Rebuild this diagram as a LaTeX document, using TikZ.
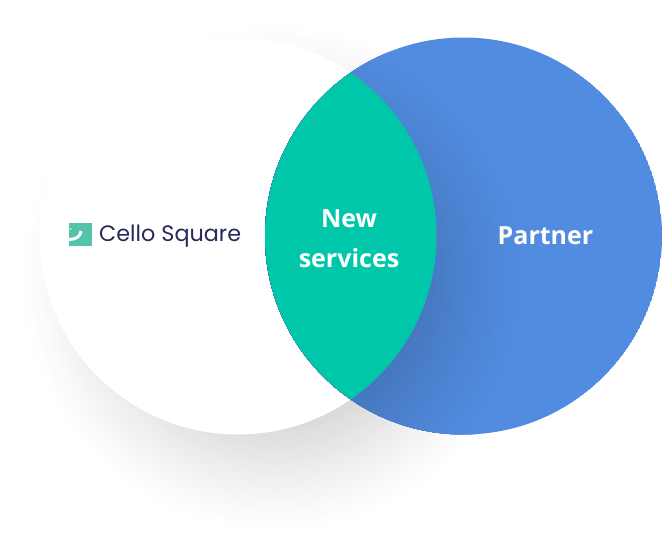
\documentclass[tikz,border=0pt]{standalone}
\usepackage{fontspec}
\usetikzlibrary{positioning}
\setmainfont{Open Sans}
\newfontfamily\logofont{Poppins}
\definecolor{partnerblue}{HTML}{528CE0}
\definecolor{lensgreen}{HTML}{00C7A9}
\definecolor{logonavy}{HTML}{28285C}
\definecolor{logogreen}{HTML}{55C3A8}
\begin{document}
\begin{tikzpicture}[
    x=1pt, y=-1pt
]
\tikzset{
    biglabel/.style = {text=white, align=center, font=\fontsize{25}{40}\selectfont\bfseries},
    logotext/.style = {text=logonavy, inner sep=0pt, font=\logofont\fontsize{22.3}{24}\selectfont}
}
\useasboundingbox (0,0) rectangle (662,552);
% soft shadow, as rings from the outside in
\foreach \r in {255,252,...,120} {
    \pgfmathsetmacro\t{(255-\r)/135}
    \pgfmathsetmacro\d{19*\t^1.2}
    \fill[black!\d!white] (275,278) circle[radius=\r];
}
\fill[white] (238,236) circle[radius=198.5];
\begin{scope}
\clip (463.5,236) circle[radius=198.5];
\fill[partnerblue] (463.5,236) circle[radius=198.5];
\foreach \r in {255,252,...,120} {
    \pgfmathsetmacro\t{(255-\r)/135}
    \pgfmathsetmacro\d{19*\t^1.2}
    \fill[black!\d!partnerblue] (275,278) circle[radius=\r];
}
\end{scope}
\begin{scope}
\clip (238,236) circle[radius=198.5];
\fill[lensgreen] (463.5,236) circle[radius=198.5];
\end{scope}
% logo
\fill[logogreen] (69,222.5) rectangle (92,245.5);
\draw[white, line width=3pt] (69,239.5) .. controls (76,239.5) and (80.5,236.5) .. (81,231);
\fill[white] (70.5,229) circle[radius=0.8];
% labels
\node[logotext, anchor=west] at (99,236.5) (cello) {Cello Square};
\node[biglabel] at (349,238.5) (newserv) {New\\services};
\node[biglabel] at (545.5,236) (partner) {Partner};
\end{tikzpicture}
\end{document}
